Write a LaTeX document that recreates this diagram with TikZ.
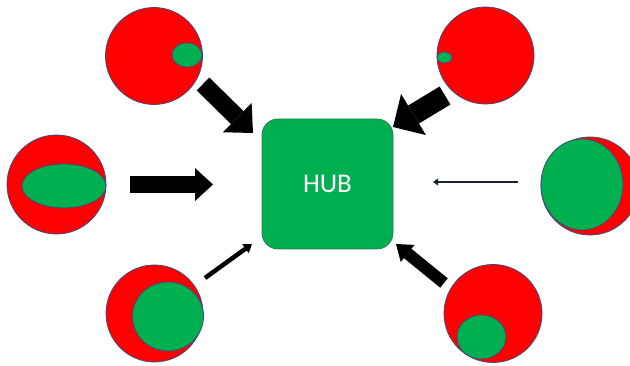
\documentclass[tikz,border=0pt]{standalone}
\usepackage{fontspec}
\newfontfamily\hubfont{Carlito}
\usetikzlibrary{shapes.geometric,arrows.meta}

\definecolor{cellred}{HTML}{FF0000}
\definecolor{coregreen}{HTML}{00B050}
\definecolor{rim}{HTML}{3C4C80}
\definecolor{hubrim}{HTML}{2F7A5A}
\definecolor{thinline}{HTML}{1B2238}

\tikzset{
  cell/.style={shape=circle,fill=cellred,draw=rim,line width=0.8pt,inner sep=0pt,minimum size=#1},
  core/.style 2 args={shape=ellipse,fill=coregreen,draw=rim,line width=0.8pt,inner sep=0pt,minimum width=#1,minimum height=#2},
  hubbox/.style={shape=rectangle,rounded corners=16pt,fill=coregreen,draw=hubrim,line width=0.8pt,minimum width=131pt,minimum height=130pt,text=white,font=\hubfont\fontsize{27}{32}\selectfont},
  push/.style n args={4}{draw=#4,line width=#1,-{Triangle[width=#2,length=#3,line width=0pt]}},
}

\begin{document}
\begin{tikzpicture}[x=1pt,y=-1pt]
\path[use as bounding box,clip] (0,0) rectangle (630,366);

\node[hubbox] (hub) at (327.5,184) {HUB};

\node[cell=97pt] (nw) at (154,56) {};
\node[core={30pt}{24pt}] (nwcore) at (187,55) {};
\node[cell=97pt] (ne) at (485.5,55.5) {};
\node[core={15pt}{11pt}] (necore) at (444.5,57.5) {};
\node[cell=99pt] (w) at (56.5,184.5) {};
\node[core={84pt}{44pt}] (wcore) at (64,186) {};
\node[cell=98pt] (e) at (590,186) {};
\node[core={82pt}{91pt}] (ecore) at (582,184.5) {};
\node[cell=97pt] (sw) at (154.5,313.5) {};
\node[core={71pt}{69pt}] (swcore) at (168,316.5) {};
\node[cell=98pt] (se) at (493,313.5) {};
\node[core={49pt}{44pt}] (secore) at (481.5,337) {};

\coordinate (nwtail) at (203,84);
\coordinate (nwhead) at (253,133);
\coordinate (netail) at (445,95.5);
\coordinate (nehead) at (393,127);
\coordinate (wtail) at (130,184.5);
\coordinate (whead) at (213,184.5);
\coordinate (etail) at (518,182);
\coordinate (ehead) at (433,182);
\coordinate (swtail) at (205,278);
\coordinate (swhead) at (252,244);
\coordinate (setail) at (444,283);
\coordinate (sehead) at (396,244);

\draw[push={18pt}{41pt}{22pt}{black}] (nwtail) -- (nwhead);
\draw[push={21pt}{48pt}{24pt}{black}] (netail) -- (nehead);
\draw[push={17pt}{33pt}{18pt}{black}] (wtail) -- (whead);
\draw[push={2.5pt}{7pt}{5pt}{thinline}] (etail) -- (ehead);
\draw[push={4.5pt}{11pt}{8pt}{black}] (swtail) -- (swhead);
\draw[push={12pt}{22pt}{15pt}{black}] (setail) -- (sehead);
\end{tikzpicture}
\end{document}
